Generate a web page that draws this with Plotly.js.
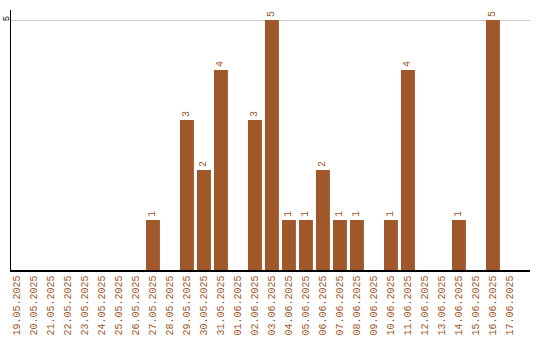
<!DOCTYPE html>
<html><head><meta charset="utf-8">
<script src="https://cdn.plot.ly/plotly-3.0.1.min.js"></script>
<style>html,body{margin:0;padding:0;background:#fff}#chart{width:540px;height:340px}</style>
</head><body><div id="chart"></div>
<script>
const dates = ["19.05.2025","20.05.2025","21.05.2025","22.05.2025","23.05.2025","24.05.2025","25.05.2025","26.05.2025","27.05.2025","28.05.2025","29.05.2025","30.05.2025","31.05.2025","01.06.2025","02.06.2025","03.06.2025","04.06.2025","05.06.2025","06.06.2025","07.06.2025","08.06.2025","09.06.2025","10.06.2025","11.06.2025","12.06.2025","13.06.2025","14.06.2025","15.06.2025","16.06.2025","17.06.2025"];
const counts = [0,0,0,0,0,0,0,0,1,0,3,2,4,0,3,5,1,1,2,1,1,0,1,4,0,0,1,0,5,0];
const yTicks = [5];

const labels = counts.map(v => v > 0 ? String(v) : "");
const brown = "#A0572A";

Plotly.newPlot("chart", [{
  type: "bar",
  x: dates,
  y: counts,
  text: labels,
  textposition: "outside",
  textangle: -90,
  cliponaxis: false,
  textfont: {family: "Liberation Mono, monospace", size: 10, color: brown},
  marker: {color: brown},
  hoverinfo: "none"
}], {
  width: 540, height: 340,
  margin: {l: 11, r: 10, t: 10, b: 70},
  paper_bgcolor: "#fff", plot_bgcolor: "#fff",
  bargap: 0.18,
  showlegend: false,
  xaxis: {
    type: "category",
    range: [-0.35, 30.18],
    tickangle: -90,
    tickfont: {family: "Liberation Mono, monospace", size: 10, color: brown},
    showline: true, linecolor: "#000", linewidth: 1.5,
    ticks: "", showgrid: false, zeroline: false, fixedrange: true
  },
  yaxis: {
    range: [0, 5.2],
    tickvals: yTicks,
    ticktext: yTicks.map(String),
    tickangle: -90,
    ticklabelstandoff: -3,
    tickfont: {family: "Liberation Mono, monospace", size: 9, color: "#000"},
    showline: true, linecolor: "#000", linewidth: 1.5,
    showgrid: true, gridcolor: "#cccccc", gridwidth: 1,
    zeroline: false, ticks: "", fixedrange: true
  }
}, {displayModeBar: false, staticPlot: true});
</script></body></html>
